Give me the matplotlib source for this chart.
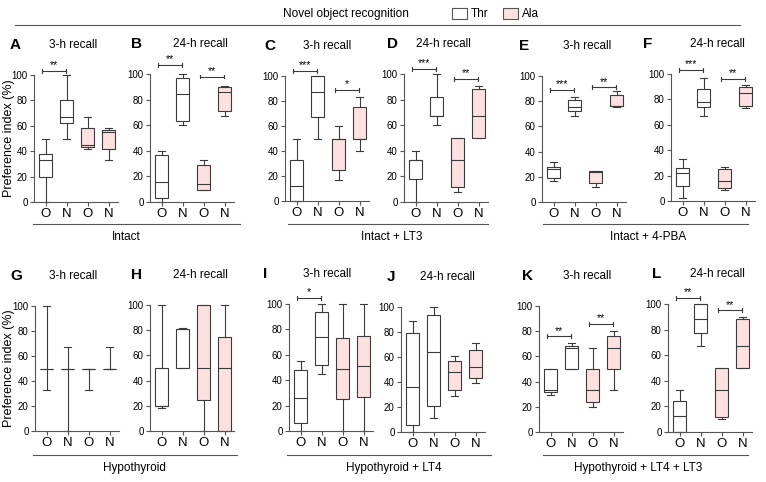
import matplotlib.pyplot as plt
from matplotlib.lines import Line2D
from matplotlib.patches import Patch

plt.rcParams['font.family'] = ['Liberation Sans', 'DejaVu Sans']

W, H = 766, 482

ticklabels = ['O', 'N', 'O', 'N']
treatment = ['Thr', 'Thr', 'Ala', 'Ala']
colors = {'Thr': 'white', 'Ala': '#fde1e1'}

# each box: [whisker low, q1, median, q3, whisker high]
A = [[0, 20, 33, 38, 50], [50, 62, 67, 80, 100], [42, 43, 45, 58, 67], [33, 42, 55, 57, 58]]
B = [[0, 3, 16, 37, 40], [60, 63, 84, 97, 100], [9, 9.5, 14, 29, 33], [67, 71, 86, 90, 91]]
C = [[0, 0, 12, 33, 50], [50, 67, 87.5, 100, 100], [17, 25, 50, 50, 60], [40, 50, 50, 75, 83]]
D = [[0, 18, 33, 33, 40], [60, 67, 67, 82, 100], [8, 12, 33, 50, 50], [50, 50, 67, 88, 91]]
E = [[17, 19, 26, 28, 32], [68, 72, 75, 81, 83], [12, 15, 24, 25, 25], [75, 76, 76, 85, 88]]
F = [[2, 12, 22, 26, 33], [67, 74, 78, 88, 97], [9, 10, 16, 25, 27], [73, 75, 85, 90, 91]]
G = [[33, 50, 50, 50, 100], [0, 50, 50, 50, 67], [33, 50, 50, 50, 50], [50, 50, 50, 50, 67]]
Hh = [[18, 20, 20, 50, 100], [50, 50, 81, 81, 82], [0, 25, 50, 100, 100], [0, 0, 50, 75, 100]]
I = [[0, 6, 26, 48, 55], [45, 52, 74, 94, 100], [0, 25, 49, 73, 100], [0, 27, 51, 75, 100]]
J = [[0, 6, 36, 79, 89], [11, 21, 64, 94, 100], [29, 34, 48, 57, 61], [39, 43, 52, 66, 71]]
K = [[29, 32, 33, 50, 50], [50, 50, 67, 68, 71], [20, 24, 33, 50, 67], [33, 50, 67, 76, 80]]
L = [[0, 0, 12.5, 24, 33], [67, 77, 88, 100, 100], [10, 12, 33, 50, 50], [50, 50, 67, 88, 90]]

# significance: (box a, box b, label, height)
sig = {
    'A': [(1, 2, '**', 103)],
    'B': [(1, 2, '**', 107), (3, 4, '**', 98)],
    'C': [(1, 2, '***', 104), (3, 4, '*', 89)],
    'D': [(1, 2, '***', 104), (3, 4, '**', 96)],
    'E': [(1, 2, '***', 89), (3, 4, '**', 91)],
    'F': [(1, 2, '***', 103), (3, 4, '**', 96)],
    'G': [], 'H': [],
    'I': [(1, 2, '*', 105)],
    'J': [],
    'K': [(1, 2, '**', 76), (3, 4, '**', 86)],
    'L': [(1, 2, '**', 105), (3, 4, '**', 95)],
}

panels = [
    # letter, data, title, axis x, y of 0, y of 100, letter x, title x
    ('A', A, '3-h recall', 34, 202, 75, 10, 73),
    ('B', B, '24-h recall', 150, 202, 74, 131, 200),
    ('C', C, '3-h recall', 285, 201, 76, 264, 327),
    ('D', D, '24-h recall', 404, 202, 74, 387, 443),
    ('E', E, '3-h recall', 542, 202, 76, 519, 587),
    ('F', F, '24-h recall', 671, 201, 74, 643, 717),
    ('G', G, '3-h recall', 35, 431, 306, 10, 73),
    ('H', Hh, '24-h recall', 150, 431, 305, 131, 200),
    ('I', I, '3-h recall', 289, 431, 304, 263, 327),
    ('J', J, '24-h recall', 401, 432, 307, 387, 447),
    ('K', K, '3-h recall', 539, 432, 306, 522, 587),
    ('L', L, '24-h recall', 668, 432, 304, 652, 717),
]

groups = [
    # name, line start, line end, line y, text x, text y
    ('Intact', 33, 240, 224, 126, 237),
    ('Intact + LT3', 288, 488, 224, 392, 237),
    ('Intact + 4-PBA', 543, 748, 224, 648, 237),
    ('Hypothyroid', 33, 237, 455, 134, 468),
    ('Hypothyroid + LT4', 287, 491, 455, 394, 468),
    ('Hypothyroid + LT4 + LT3', 543, 748, 455, 638, 468),
]

ec = '#3a3a3a'
fig = plt.figure(figsize=(W / 100, H / 100), dpi=100)

for letter, data, title, x0, y0, y100, lx, tx in panels:
    h = (y0 - y100) * 1.1
    ax = fig.add_axes([x0 / W, (H - y0) / H, 84 / W, h / H])
    stats = [dict(whislo=d[0], q1=d[1], med=d[2], q3=d[3], whishi=d[4]) for d in data]
    res = ax.bxp(stats, positions=[1, 2, 3, 4], widths=0.62, capwidths=0.32,
                 patch_artist=True, showfliers=False,
                 boxprops=dict(edgecolor=ec, linewidth=0.8),
                 medianprops=dict(color=ec, linewidth=0.8),
                 whiskerprops=dict(color=ec, linewidth=0.8),
                 capprops=dict(color=ec, linewidth=0.8))
    for b, t in zip(res['boxes'], treatment):
        b.set_facecolor(colors[t])
    for key in res:
        for art in res[key]:
            art.set_clip_on(False)
    ax.set_xlim(0.45, 4.45)
    ax.set_ylim(0, 110)
    ax.set_yticks([0, 20, 40, 60, 80, 100])
    ax.set_xticks([1, 2, 3, 4])
    ax.set_xticklabels(ticklabels, fontsize=9.5)
    ax.tick_params(axis='y', labelsize=7, length=3, width=0.8, color='#555', pad=1.5)
    ax.tick_params(axis='x', length=3, width=0.8, color='#555', pad=1.5)
    for s in ['top', 'right']:
        ax.spines[s].set_visible(False)
    ax.spines['left'].set_bounds(0, 100)
    for s in ['left', 'bottom']:
        ax.spines[s].set_color('#555')
        ax.spines[s].set_linewidth(0.8)
    ax.patch.set_alpha(0)
    for a, b, lab, y in sig[letter]:
        ax.plot([a - 0.15, a - 0.15, a - 0.15, b - 0.05, b - 0.05, b - 0.05],
                [y - 1.5, y + 1.5, y, y, y + 1.5, y - 1.5],
                color=ec, lw=0.8, clip_on=False)
        ax.text((a + b) / 2 - 0.1, y + 0.5, lab, ha='center', va='bottom',
                fontsize=7.5, clip_on=False)
    ty = 1 - (y100 - 30) / H
    fig.text(lx / W, ty, letter, fontsize=11, fontweight='bold', va='center')
    fig.text(tx / W, ty, title, fontsize=8.5, ha='center', va='center')
    if letter in ('A', 'G'):
        fig.text(9 / W, 1 - (y0 + y100) / 2 / H, 'Preference index (%)', fontsize=9,
                 rotation=90, ha='center', va='center')

for name, xa, xb, yl, xt, yt in groups:
    fig.add_artist(Line2D([xa / W, xb / W], [1 - yl / H, 1 - yl / H], color='#555', lw=0.8))
    fig.text(xt / W, 1 - yt / H, name, fontsize=8.5, ha='center', va='center')

fig.add_artist(Line2D([15 / W, 740 / W], [1 - 25 / H, 1 - 25 / H], color='#555', lw=0.8))
fig.text(346 / W, 1 - 14 / H, 'Novel object recognition', fontsize=8.5, ha='center', va='center')
handles = [Patch(facecolor=colors[t], edgecolor='#555', lw=0.8) for t in ['Thr', 'Ala']]
fig.legend(handles, ['Thr', 'Ala'], loc='center left', bbox_to_anchor=(452 / W, 1 - 14 / H),
           ncol=2, frameon=False, fontsize=8.5, handlelength=1.3, handleheight=1.1,
           handletextpad=0.3, columnspacing=1.2, borderaxespad=0, borderpad=0)

fig.savefig('out.png', dpi=100)
